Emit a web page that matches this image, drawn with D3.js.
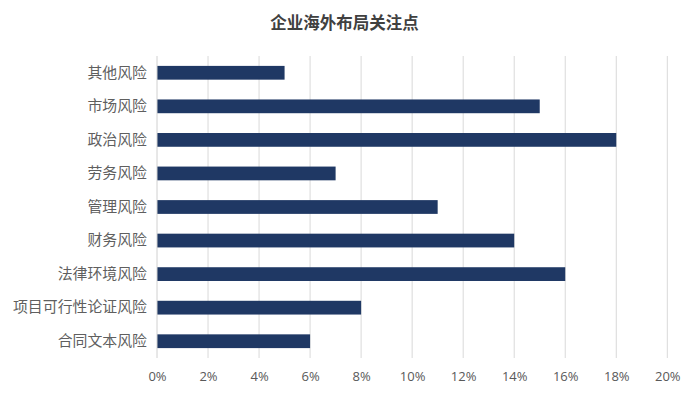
<!DOCTYPE html>
<html>
<head>
<meta charset="utf-8">
<script src="https://cdn.jsdelivr.net/npm/d3@7"></script>
<style>
  body { margin: 0; background: #fff; }
  text { font-family: "Noto Sans CJK SC", "Noto Sans", sans-serif; }
</style>
</head>
<body>
<div id="chart"></div>
<script>
// Width and height
var chartWidth  = 689;
var chartHeight = 398;
var margin = { top: 56, right: 22, bottom: 40, left: 157 };

// Data
var categories = ['其他风险', '市场风险', '政治风险', '劳务风险', '管理风险',
                  '财务风险', '法律环境风险', '项目可行性论证风险', '合同文本风险'];
var values = [0.05, 0.15, 0.18, 0.07, 0.11, 0.14, 0.16, 0.08, 0.06];
var tickValues = [0, 0.02, 0.04, 0.06, 0.08, 0.10, 0.12, 0.14, 0.16, 0.18, 0.20];
var title = '企业海外布局关注点';

var svg = d3.select('#chart')
    .append('svg')
    .attr('width', chartWidth)
    .attr('height', chartHeight);

var x = d3.scaleLinear()
    .domain([0, 0.2])
    .range([margin.left, 667.3]);

var y = d3.scaleBand()
    .domain(categories)
    .range([margin.top, 358])
    .paddingInner(0.59)
    .paddingOuter(0.295);

// gridlines
svg.append('g')
    .selectAll('line')
    .data(tickValues.slice(1))
    .enter()
    .append('line')
    .attr('x1', function(d){ return x(d); })
    .attr('x2', function(d){ return x(d); })
    .attr('y1', margin.top)
    .attr('y2', 358)
    .attr('stroke', '#d9d9d9')
    .attr('stroke-width', 1);

// bars
svg.append('g')
    .selectAll('rect')
    .data(values)
    .enter()
    .append('rect')
    .attr('x', x(0))
    .attr('y', function(d, i){ return y(categories[i]); })
    .attr('width', function(d){ return x(d) - x(0); })
    .attr('height', y.bandwidth())
    .attr('fill', '#1f3864');

// category axis line
svg.append('line')
    .attr('x1', x(0))
    .attr('x2', x(0))
    .attr('y1', margin.top)
    .attr('y2', 358)
    .attr('stroke', '#d0d0d0')
    .attr('stroke-width', 1);

// y labels
var yAxis = d3.axisLeft(y).tickSize(0).tickPadding(10);
var gy = svg.append('g')
    .attr('transform', 'translate(' + x(0) + ',0)')
    .call(yAxis);
gy.select('.domain').remove();
gy.selectAll('text')
    .attr('fill', '#5f5f5f')
    .style('font-size', '14.9px')
    .style('font-family', '"Noto Sans CJK SC", sans-serif');

// x labels
var xAxis = d3.axisBottom(x)
    .tickValues(tickValues)
    .tickSize(0)
    .tickPadding(14)
    .tickFormat(d3.format('.0%'));
var gx = svg.append('g')
    .attr('transform', 'translate(0,358)')
    .call(xAxis);
gx.select('.domain').remove();
gx.selectAll('text')
    .attr('fill', '#595959')
    .style('font-size', '13px')
    .style('font-family', '"Open Sans", sans-serif');

// title
svg.append('text')
    .attr('x', 344.5)
    .attr('y', 29)
    .attr('text-anchor', 'middle')
    .attr('fill', '#404040')
    .style('font-size', '16.5px')
    .style('font-weight', 'bold')
    .text(title);
</script>
</body>
</html>
